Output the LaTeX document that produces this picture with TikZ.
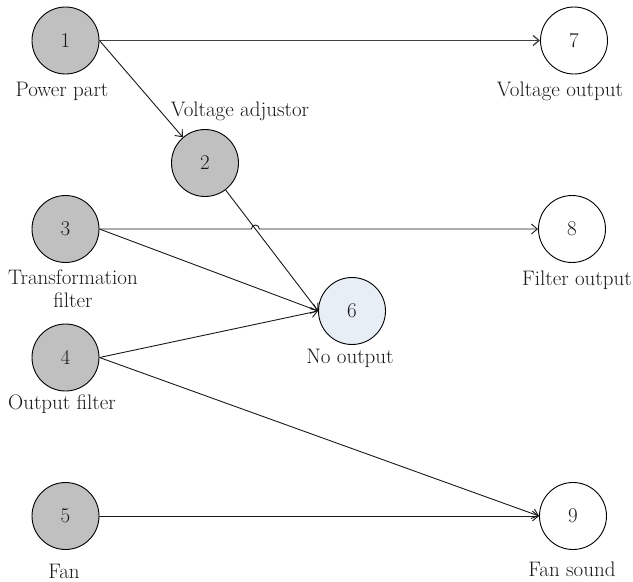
\documentclass[tikz,border=0pt]{standalone}
\usetikzlibrary{arrows.meta}
\definecolor{srcgray}{HTML}{C0C0C0}
\definecolor{noblue}{HTML}{E8EEF6}
\begin{document}
\begin{tikzpicture}[x=1pt,y=-1pt,font=\fontsize{21}{23}\selectfont,
  src/.style={circle,draw=black,line width=0.9pt,fill=srcgray,minimum size=67pt,inner sep=0pt,text=black!90},
  dst/.style={circle,draw=black,line width=0.9pt,fill=white,minimum size=67pt,inner sep=0pt,text=black!90},
  lab/.style={inner sep=0pt,text=black!90,align=center},
  conn/.style={-{Straight Barb[length=6pt,width=10pt]},line width=0.9pt,draw=black!90}]
\useasboundingbox (0,0) rectangle (633,582);
\node[src] (n1) at (65.5,40.5) {1};
\node[src] (n2) at (205,163) {2};
\node[src] (n3) at (65.5,229) {3};
\node[src] (n4) at (65.5,357.5) {4};
\node[src] (n5) at (65.5,516) {5};
\node[dst,fill=noblue] (n6) at (352,311) {6};
\node[dst] (n7) at (574,40.5) {7};
\node[dst] (n8) at (572,229) {8};
\node[dst] (n9) at (573,516) {9};
\node[lab] (l1) at (62,91) {Power part};
\node[lab] (l2) at (240,111) {Voltage adjustor};
\node[lab] (l3) at (73,289) {Transformation\\filter};
\node[lab] (l4) at (62,404) {Output filter};
\node[lab] (l5) at (64,571) {Fan};
\node[lab] (l6) at (350,358) {No output};
\node[lab] (l7) at (560,91) {Voltage output};
\node[lab] (l8) at (577,280) {Filter output};
\node[lab] (l9) at (572,569) {Fan sound};
\coordinate (hop) at (255.4,229);
\draw[conn,line width=1.3pt,draw=black!75] (n1.east) -- (n7.west);
\draw[conn] (n1.east) -- (n2);
\draw[conn] (n3.east) -- ([xshift=-4pt]hop) arc[start angle=180,end angle=0,radius=4pt] -- (n8.west);
\draw[conn] (n3.east) -- (n6.west);
\draw[conn] (n2) -- (n6.west);
\draw[conn] (n4.east) -- (n6.west);
\draw[conn] (n4.east) -- (n9.west);
\draw[conn] (n5.east) -- (n9.west);
\end{tikzpicture}
\end{document}
